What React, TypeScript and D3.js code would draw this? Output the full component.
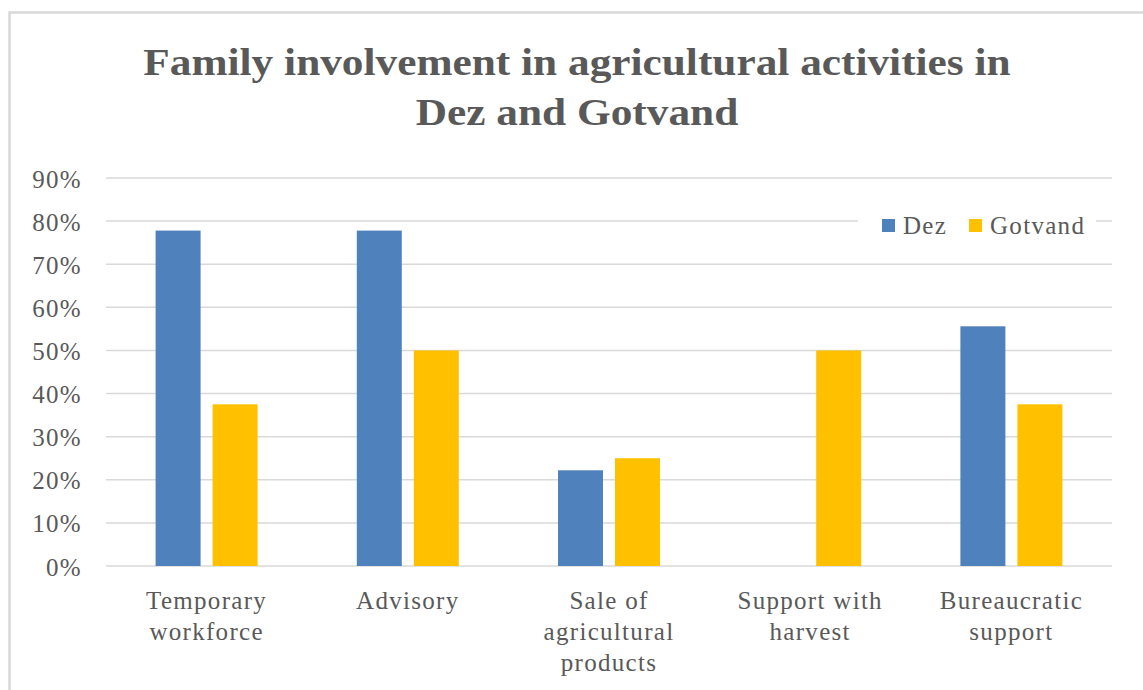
import React from "react";
import * as d3 from "d3";

const categories: string[][] = [
  ["Temporary", "workforce"],
  ["Advisory"],
  ["Sale of", "agricultural", "products"],
  ["Support with", "harvest"],
  ["Bureaucratic", "support"],
];
const seriesNames = ["Dez", "Gotvand"];
const dezValues = [0.778, 0.778, 0.222, 0, 0.556];
const gotvandValues = [0.375, 0.5, 0.25, 0.5, 0.375];
const yTicks = [0, 0.1, 0.2, 0.3, 0.4, 0.5, 0.6, 0.7, 0.8, 0.9];
const titleLines = ["Family involvement in agricultural activities in", "Dez and Gotvand"];
const colors = ["#4F81BD", "#FFC000"];

const W = 1143;
const H = 690;
const FONT = "'Liberation Serif', 'Times New Roman', serif";
const TXT = "#595959";

export default function App() {
  const keys = categories.map((c) => c.join(" "));
  const x0 = d3.scaleBand<string>().domain(keys).range([106, 1112]).padding(0);
  const xSub = d3.scaleBand<string>().domain(seriesNames).range([-51, 51]).paddingInner(0.211).paddingOuter(0);
  const y = d3.scaleLinear().domain([0, 0.9]).range([566, 178]);
  const values = [dezValues, gotvandValues];
  const fmt = d3.format(".0%");

  return (
    <svg width={W} height={H} style={{ position: "absolute", left: 0, top: 0, background: "#fff" }}>
      <rect x={0} y={0} width={W} height={H} fill="#fff" />
      <rect x={9.5} y={12.5} width={1160} height={700} fill="#fff" stroke="#d9d9d9" strokeWidth={2.5} />
      {titleLines.map((t, i) => (
        <text
          key={i}
          transform={`translate(577,${75 + i * 50}) scale(1.14,1)`}
          textAnchor="middle"
          fontFamily={FONT}
          fontWeight="bold"
          fontSize={38}
          fill={TXT}
        >
          {t}
        </text>
      ))}
      {yTicks.map((t) => (
        <g key={t}>
          <line x1={106} x2={1112} y1={y(t)} y2={y(t)} stroke="#d9d9d9" strokeWidth={1.5} />
          <text x={82} y={y(t) + 9.5} textAnchor="end" fontFamily={FONT} fontSize={25} letterSpacing={1.3} fill={TXT}>
            {fmt(t)}
          </text>
        </g>
      ))}
      {values.map((vals, si) =>
        vals.map((v, ci) => {
          const cx = (x0(keys[ci]) as number) + x0.bandwidth() / 2;
          const bx = cx + (xSub(seriesNames[si]) as number);
          return v > 0 ? (
            <rect key={`${si}-${ci}`} x={bx} y={y(v)} width={xSub.bandwidth()} height={y(0) - y(v)} fill={colors[si]} />
          ) : null;
        })
      )}
      {categories.map((lines, ci) => {
        const cx = (x0(keys[ci]) as number) + x0.bandwidth() / 2;
        return (
          <text key={ci} textAnchor="middle" fontFamily={FONT} fontSize={25} letterSpacing={1.3} fill={TXT}>
            {lines.map((l, li) => (
              <tspan key={li} x={cx} y={609 + li * 31}>
                {l}
              </tspan>
            ))}
          </text>
        );
      })}
      <rect x={858} y={208} width={238} height={34} fill="#fff" />
      {seriesNames.map((s, i) => {
        const lx = [882, 969][i];
        return (
          <g key={s}>
            <rect x={lx} y={219} width={13} height={13} fill={colors[i]} />
            <text x={lx + 21} y={234} fontFamily={FONT} fontSize={25} letterSpacing={1.3} fill={TXT}>
              {s}
            </text>
          </g>
        );
      })}
    </svg>
  );
}
